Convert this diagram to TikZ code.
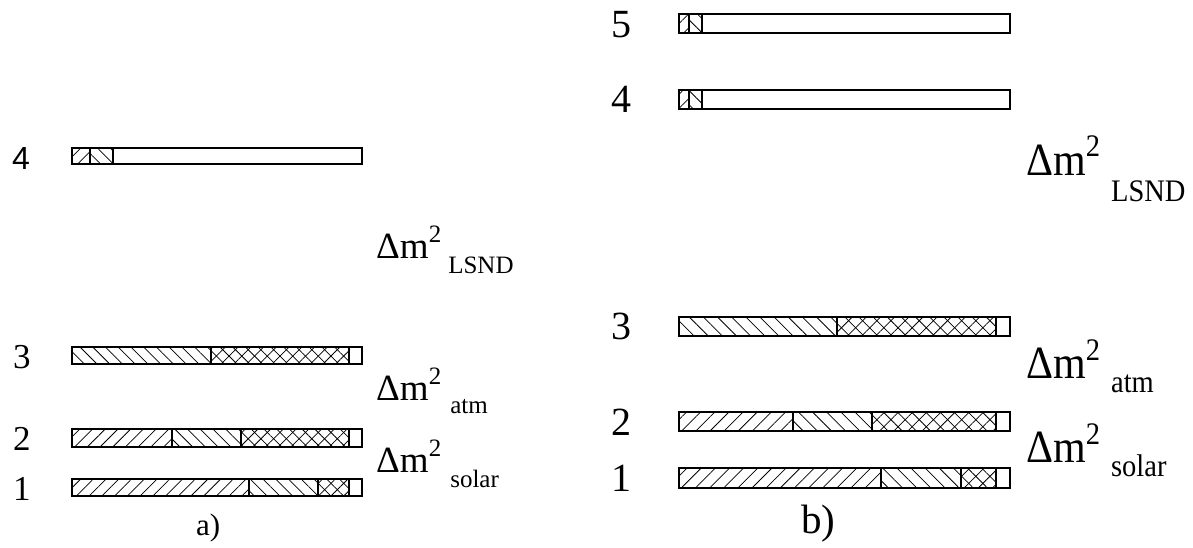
\documentclass[tikz,border=0pt]{standalone}
\usepackage{fontspec}
\setmainfont{Liberation Serif}
\newfontfamily\helv{Liberation Sans}
\usetikzlibrary{patterns.meta}

\tikzset{
 bar/.style={draw=black, line width=1.1pt},
 nea/.style={pattern={Lines[angle=45,distance=9pt,line width=0.75pt]}},
 nwa/.style={pattern={Lines[angle=-45,distance=9pt,line width=0.75pt]}},
 neb/.style={pattern={Lines[angle=45,distance=10pt,line width=0.75pt]}},
 nwb/.style={pattern={Lines[angle=-45,distance=10pt,line width=0.75pt]}},
 lbl/.style={inner sep=0, anchor=base west},
 lblb/.style={lbl, yscale=1.1},
}
% Delta m^2 with sub label: size, sup size, sup raise, gap, sub lower, name
\newcommand{\dmsq}[6]{{\fontsize{#1}{#1}\selectfont Δm}\raisebox{#3}{\fontsize{#2}{#2}\selectfont 2}\hspace{#4}\raisebox{-#5}{\fontsize{#2}{#2}\selectfont #6}}

\begin{document}
\begin{tikzpicture}[x=1pt, y=-1pt]
\useasboundingbox (0,0) rectangle (1193,547);

% ---- a) ----
% level 4
\fill[nea] (72,148) rectangle (90,164);
\fill[nwa] (90,148) rectangle (113,164);
\draw[bar] (72,148) rectangle (362,164);
\foreach \x in {90,113} \draw[bar] (\x,148)--(\x,164);
% level 3
\fill[nwa] (72,347) rectangle (211,364);
\fill[nea] (211,347) rectangle (349,364);
\fill[nwa] (211,347) rectangle (349,364);
\draw[bar] (72,347) rectangle (362,364);
\foreach \x in {211,349} \draw[bar] (\x,347)--(\x,364);
% level 2
\fill[nea] (72,429) rectangle (172,447);
\fill[nwa] (172,429) rectangle (241,447);
\fill[nea] (241,429) rectangle (349,447);
\fill[nwa] (241,429) rectangle (349,447);
\draw[bar] (72,429) rectangle (362,447);
\foreach \x in {172,241,349} \draw[bar] (\x,429)--(\x,447);
% level 1
\fill[nea] (72,479) rectangle (249,496);
\fill[nwa] (249,479) rectangle (318,496);
\fill[nea] (318,479) rectangle (349,496);
\fill[nwa] (318,479) rectangle (349,496);
\draw[bar] (72,479) rectangle (362,496);
\foreach \x in {249,318,349} \draw[bar] (\x,479)--(\x,496);

\node[lbl] (na4) at (12,169) {\helv\fontsize{32}{32}\selectfont 4};
\foreach \n/\y in {3/368,2/450,1/500}
 \node[lbl] (na\n) at (13,\y) {\fontsize{35}{35}\selectfont \n};

\node[lbl] (dmLSNDa) at (376,258) {\dmsq{37}{25}{16pt}{7pt}{15pt}{LSND}};
\node[lbl] (dmatma) at (376,400) {\dmsq{37}{25}{16pt}{9pt}{13pt}{atm}};
\node[lbl] (dmsolara) at (376,472) {\dmsq{37}{25}{16pt}{9pt}{15pt}{solar}};
\node[lbl] (capa) at (196,535) {\fontsize{31}{31}\selectfont a)};

% ---- b) ----
% level 5
\fill[neb] (679,14) rectangle (689,33);
\fill[nwb] (689,14) rectangle (702,33);
\draw[bar] (679,14) rectangle (1010,33);
\foreach \x in {689,702} \draw[bar] (\x,14)--(\x,33);
% level 4
\fill[neb] (679,90) rectangle (689,109);
\fill[nwb] (689,90) rectangle (702,109);
\draw[bar] (679,90) rectangle (1010,109);
\foreach \x in {689,702} \draw[bar] (\x,90)--(\x,109);
% level 3
\fill[nwb] (679,317) rectangle (837,336);
\fill[neb] (837,317) rectangle (996,336);
\fill[nwb] (837,317) rectangle (996,336);
\draw[bar] (679,317) rectangle (1010,336);
\foreach \x in {837,996} \draw[bar] (\x,317)--(\x,336);
% level 2
\fill[neb] (679,412) rectangle (793,431);
\fill[nwb] (793,412) rectangle (872,431);
\fill[neb] (872,412) rectangle (996,431);
\fill[nwb] (872,412) rectangle (996,431);
\draw[bar] (679,412) rectangle (1010,431);
\foreach \x in {793,872,996} \draw[bar] (\x,412)--(\x,431);
% level 1
\fill[neb] (679,468) rectangle (881,488);
\fill[nwb] (881,468) rectangle (961,488);
\fill[neb] (961,468) rectangle (996,488);
\fill[nwb] (961,468) rectangle (996,488);
\draw[bar] (679,468) rectangle (1010,488);
\foreach \x in {881,961,996} \draw[bar] (\x,468)--(\x,488);

\foreach \n/\y in {5/37,4/112,3/339,2/435,1/491}
 \node[lbl] (nb\n) at (611,\y) {\fontsize{40}{40}\selectfont \n};

\node[lblb] (dmLSNDb) at (1026,175) {\dmsq{42}{28.5}{17pt}{11pt}{24pt}{LSND}};
\node[lblb] (dmatmb) at (1026,378) {\dmsq{42}{28.5}{16pt}{11pt}{13pt}{atm}};
\node[lblb] (dmsolarb) at (1026,462) {\dmsq{42}{28.5}{16pt}{11pt}{13pt}{solar}};
\node[lbl] (capb) at (801,533) {\fontsize{41}{41}\selectfont b)};
\end{tikzpicture}
\end{document}
